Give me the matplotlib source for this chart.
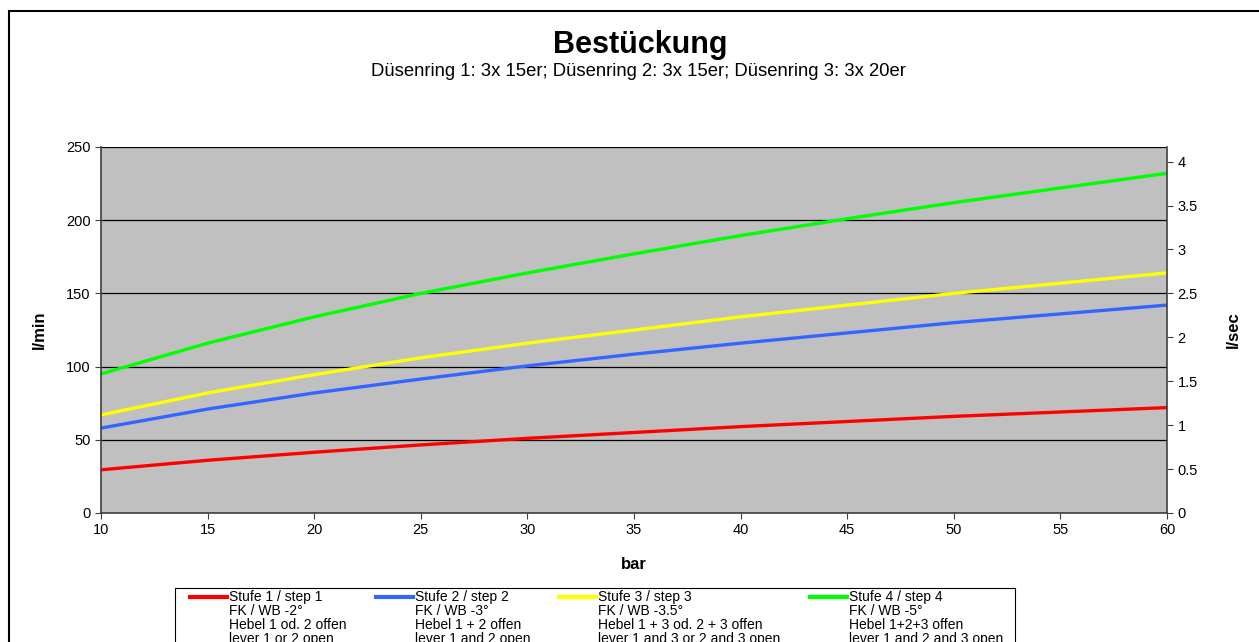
import matplotlib.pyplot as plt
from matplotlib.patches import Rectangle
from matplotlib.lines import Line2D

plt.rcParams['font.family'] = ['Liberation Sans', 'DejaVu Sans']

# pressure in bar
bar = [10, 15, 20, 25, 30, 35, 40, 45, 50, 55, 60]

# flow in l/min
stufe1 = [29.5, 36, 41.5, 46.5, 51, 55, 59, 62.5, 66, 69, 72]
stufe2 = [58, 71, 82, 91.5, 100.5, 108.5, 116, 123, 130, 136, 142]
stufe3 = [67, 82, 94.5, 106, 116, 125, 134, 142, 150, 157, 164]
stufe4 = [95, 116, 134, 150, 164, 177, 189.5, 201, 212, 222, 232]

series = [stufe1, stufe2, stufe3, stufe4]
colors = ['#ff0000', '#3366ff', '#ffff00', '#00ff00']
labels = [
    ["Stufe 1 / step 1", "FK / WB -2°", "Hebel 1 od. 2 offen", "lever 1 or 2 open"],
    ["Stufe 2 / step 2", "FK / WB -3°", "Hebel 1 + 2 offen", "lever 1 and 2 open"],
    ["Stufe 3 / step 3", "FK / WB -3.5°", "Hebel 1 + 3 od. 2 + 3 offen", "lever 1 and 3 or 2 and 3 open"],
    ["Stufe 4 / step 4", "FK / WB -5°", "Hebel 1+2+3 offen", "lever 1 and 2 and 3 open"],
]

W, H = 1259, 642
fig = plt.figure(figsize=(W / 100, H / 100), dpi=100)

def fx(px):
    return px / W

def fy(py):
    return 1 - py / H

# outer chart frame (runs off the right and bottom edges)
fig.patches.append(Rectangle((fx(8.5), fy(700)), fx(1300), fy(11) - fy(700),
                             transform=fig.transFigure, fill=False,
                             edgecolor='black', linewidth=1.5))

ax = fig.add_axes([fx(101), fy(513), fx(1167) - fx(101), fy(147) - fy(513)])
ax.set_facecolor('#c0c0c0')
for y, c in zip(series, colors):
    ax.plot(bar, y, color=c, linewidth=2.4)

ax.set_xlim(10, 60)
ax.set_ylim(0, 250)
ax.set_xticks(range(10, 61, 5))
ax.set_yticks(range(0, 251, 50))
ax.yaxis.grid(True, color='black', linewidth=0.9)
ax.set_axisbelow(True)
for s in ['top', 'right']:
    ax.spines[s].set_visible(False)
for s in ['left', 'bottom']:
    ax.spines[s].set_color('#404040')
    ax.spines[s].set_linewidth(1.2)
ax.tick_params(labelsize=10.5, length=4, color='#404040')
ax.set_xlabel('bar', fontsize=12, fontweight='bold', labelpad=14)
ax.set_ylabel('l/min', fontsize=12, fontweight='bold', labelpad=14)

ax2 = ax.twinx()
ax2.set_ylim(0, 250 / 60)
ax2.set_yticks([0, 0.5, 1, 1.5, 2, 2.5, 3, 3.5, 4])
ax2.set_yticklabels(['0', '0.5', '1', '1.5', '2', '2.5', '3', '3.5', '4'])
for s in ['top', 'left', 'bottom']:
    ax2.spines[s].set_visible(False)
ax2.spines['right'].set_color('#404040')
ax2.spines['right'].set_linewidth(1.2)
ax2.tick_params(labelsize=10.5, length=4, color='#404040')
ax2.set_ylabel('l/sec', fontsize=12, fontweight='bold', labelpad=20)

fig.text(fx(640), fy(45), 'Bestückung', ha='center', va='center',
         fontsize=22, fontweight='bold')
fig.text(fx(638), fy(72), 'Düsenring 1: 3x 15er; Düsenring 2: 3x 15er; Düsenring 3: 3x 20er',
         ha='center', va='center', fontsize=13.3)

# legend box, drawn by hand to keep the line next to the first text row
fig.patches.append(Rectangle((fx(175), fy(700)), fx(1015) - fx(175), fy(588) - fy(700),
                             transform=fig.transFigure, fill=False,
                             edgecolor='black', linewidth=0.8))
line_x = [190, 376, 559, 810]
rows = [597, 611, 625, 639]
for lx, c, lab in zip(line_x, colors, labels):
    fig.lines.append(Line2D([fx(lx), fx(lx + 37)], [fy(rows[0]), fy(rows[0])],
                            transform=fig.transFigure, color=c, linewidth=3))
    for r, t in zip(rows, lab):
        fig.text(fx(lx + 39), fy(r), t, ha='left', va='center', fontsize=10)

fig.savefig('out.png', dpi=100)
